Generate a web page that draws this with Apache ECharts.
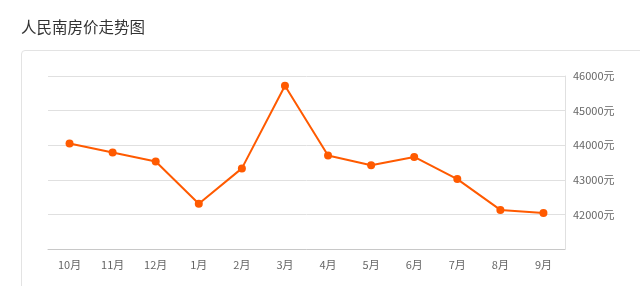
<!DOCTYPE html>
<html>
<head>
<meta charset="utf-8">
<style>
html,body{margin:0;padding:0;background:#fff;}
#card{position:absolute;left:21px;top:50px;width:640px;height:260px;border:1px solid #e3e3e3;border-radius:4px;box-sizing:border-box;}
#chart{position:absolute;left:0;top:0;width:640px;height:286px;}
</style>
<script src="https://cdn.jsdelivr.net/npm/echarts@6/dist/echarts.min.js"></script>
</head>
<body>
<div id="card"></div>
<div id="chart"></div>
<script>
const titleText = '人民南房价走势图';
const months = ['10月','11月','12月','1月','2月','3月','4月','5月','6月','7月','8月','9月'];
const prices = [44050, 43790, 43530, 42310, 43330, 45720, 43700, 43420, 43660, 43020, 42130, 42040];
const yMin = 41000, yMax = 46000, yStep = 1000;
const unit = '元';

const chart = echarts.init(document.getElementById('chart'), null, {renderer:'canvas'});
chart.setOption({
  animation: false,
  title: {
    text: titleText,
    left: 16, top: 14,
    textStyle: {fontSize: 15.5, fontWeight: 'normal', color: '#333', fontFamily: '"Noto Sans CJK SC", sans-serif'}
  },
  grid: {left: 48, right: 75, top: 76, bottom: 37, containLabel: false},
  xAxis: {
    type: 'category',
    data: months,
    boundaryGap: true,
    axisLine: {lineStyle: {color: '#c8c8c8', width: 1}},
    axisTick: {alignWithLabel: true, length: 4, lineStyle: {color: '#c8c8c8'}},
    axisLabel: {color: '#666', fontSize: 11, margin: 10, fontFamily: '"Noto Sans CJK SC", sans-serif'}
  },
  yAxis: {
    type: 'value',
    position: 'right',
    min: yMin, max: yMax, interval: yStep,
    axisLine: {show: true, lineStyle: {color: '#e0e0e0'}},
    axisTick: {show: false},
    splitLine: {lineStyle: {color: '#e0e0e0'}},
    axisLabel: {
      showMinLabel: false,
      color: '#666', fontSize: 11, margin: 8,
      fontFamily: '"Noto Sans CJK SC", sans-serif',
      formatter: v => v + unit
    }
  },
  series: [{
    type: 'line',
    data: prices,
    symbol: 'circle',
    symbolSize: 8,
    lineStyle: {color: '#ff5a00', width: 2},
    itemStyle: {color: '#ff5a00'}
  }]
});
</script>
</body>
</html>
